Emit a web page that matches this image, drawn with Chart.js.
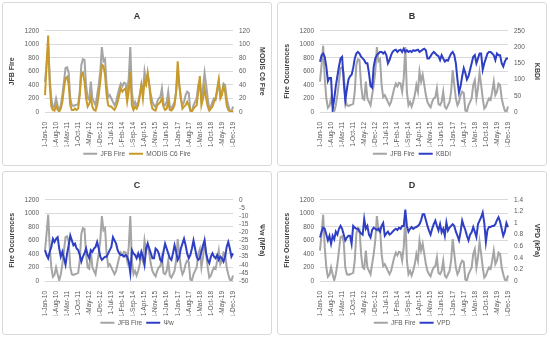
<!DOCTYPE html>
<html>
<head>
<meta charset="utf-8">
<script src="https://cdn.jsdelivr.net/npm/chart.js@4.4.1/dist/chart.umd.min.js"></script>
<style>
  body { margin: 0; background: #fff; width: 550px; height: 338px; position: relative; overflow: hidden; }
  .panel { position: absolute; width: 270px; height: 164px; box-sizing: border-box; border: 1px solid #d9d9d9; border-radius: 3px; background: #fff; }
  .panel canvas { position: absolute; left: 0; top: 0; }
</style>
</head>
<body>
<div class="panel" style="left:2px;top:2px"><canvas id="chartA" width="268" height="165"></canvas></div>
<div class="panel" style="left:277px;top:2px"><canvas id="chartB" width="268" height="165"></canvas></div>
<div class="panel" style="left:2px;top:171px"><canvas id="chartC" width="268" height="165"></canvas></div>
<div class="panel" style="left:277px;top:171px"><canvas id="chartD" width="268" height="165"></canvas></div>
<script>
// meses de ene-2010 a dic-2019 (120 categorias)
var monthNames = ["Jan", "Feb", "Mar", "Apr", "May", "Jun", "Jul", "Aug", "Sep", "Oct", "Nov", "Dec"];
var months = [];
for (var y = 10; y <= 19; y++) {
  for (var m = 0; m < 12; m++) months.push("1-" + monthNames[m] + "-" + y);
}

// etiquetas visibles del eje x (cada 7 meses)
var tickLabels = ["1-Jan-10", "1-Aug-10", "1-Mar-11", "1-Oct-11", "1-May-12", "1-Dec-12",
  "1-Jul-13", "1-Feb-14", "1-Sep-14", "1-Apr-15", "1-Nov-15", "1-Jun-16", "1-Jan-17",
  "1-Aug-17", "1-Mar-18", "1-Oct-18", "1-May-19", "1-Dec-19"];

var jfbFire = [
  450, 700, 980, 500, 200, 60, 90, 200, 100, 10, 100, 250,
  450, 650, 660, 580, 200, 100, 90, 100, 110, 120, 300, 700,
  780, 770, 400, 200, 180, 450, 200, 150, 100, 250, 400, 600,
  960, 750, 780, 400, 220, 250, 200, 150, 100, 150, 250, 350,
  420, 380, 430, 420, 300, 500, 960, 300, 100, 150, 80, 150,
  250, 400, 300, 600, 450, 550, 400, 250, 150, 100, 70, 150,
  200, 220, 350, 120, 100, 150, 300, 80, 50, 100, 150, 300,
  620, 400, 200, 100, 150, 250, 300, 280, 20, 10, 100, 150,
  200, 400, 470, 200, 350, 580, 400, 200, 50, 80, 150, 200,
  180, 300, 450, 250, 300, 420, 400, 200, 100, 20, 0, 80
];

var modisFire = [
  25, 70, 113, 40, 8, 3, 2, 10, 3, 1, 5, 15,
  35, 50, 52, 40, 10, 3, 3, 5, 3, 5, 25, 55,
  58, 45, 20, 8, 12, 22, 8, 3, 2, 10, 25, 45,
  70, 68, 55, 25, 10, 8, 8, 5, 3, 8, 15, 25,
  35, 30, 33, 35, 15, 30, 60, 10, 3, 8, 5, 10,
  25, 40, 20, 45, 40, 58, 40, 15, 5, 3, 2, 10,
  12, 15, 20, 8, 3, 5, 15, 3, 2, 5, 10, 30,
  75, 40, 20, 5, 8, 10, 15, 10, 2, 1, 5, 8,
  10, 30, 53, 10, 20, 35, 20, 8, 2, 5, 8, 15,
  20, 35, 48, 20, 25, 38, 30, 10, 3, 1, 0, 2
];

var kbdi = [
  155, 175, 180, 170, 140, 95, 105, 105, 10, 40, 80, 110,
  140, 165, 170, 95, 35, 70, 100, 110, 115, 135, 165, 180,
  185, 180, 170, 165, 160, 150, 150, 120, 80, 75, 140, 165,
  175, 180, 185, 185, 180, 185, 175, 150, 160, 175, 185, 190,
  192, 185, 190, 192, 185, 195, 185, 190, 185, 188, 185, 190,
  188, 190, 192, 185, 188, 192, 195, 190, 165, 165, 172, 180,
  185, 180, 175, 172, 160, 175, 165, 155, 160, 158, 170, 180,
  185, 175, 150, 100, 60, 80, 110, 135, 120, 100, 110, 130,
  150, 170, 175, 150, 165, 180, 180, 130, 150, 165, 180, 185,
  185, 180, 175, 160, 180, 175, 175, 150, 140, 155, 165, 165
];

var psiW = [
  -31, -34, -36, -32, -29, -24, -26, -24, -23, -30, -35, -32,
  -36, -40, -33, -28, -22, -25, -28, -27, -30, -31, -34, -38,
  -35, -33, -30, -34, -36, -31, -32, -30, -29, -26, -30, -35,
  -37, -36, -35, -35, -33, -31, -29, -23, -25, -27, -31, -33,
  -34, -34, -35, -34, -35, -38, -45, -31, -33, -34, -36, -33,
  -36, -32, -35, -40, -30, -27, -30, -33, -36, -36, -30, -31,
  -33, -37, -38, -32, -27, -30, -33, -36, -37, -33, -28, -32,
  -37, -35, -30, -27, -24, -28, -33, -36, -34, -30, -25, -30,
  -35, -37, -36, -32, -28, -25, -33, -37, -39, -35, -33, -35,
  -36, -34, -37, -35, -36, -38, -35, -29, -26, -30, -35, -33
];

var vpd = [
  0.75, 0.85, 0.92, 0.90, 0.80, 0.70, 0.78, 0.64, 0.78, 0.72, 0.85, 0.80,
  0.90, 0.95, 0.90, 0.80, 0.70, 0.75, 0.78, 0.78, 0.64, 0.95, 0.92, 0.90,
  0.90, 0.85, 0.82, 0.80, 1.07, 0.90, 0.95, 0.80, 0.75, 0.88, 0.92, 0.90,
  0.88, 0.90, 0.85, 0.95, 1.00, 0.78, 0.82, 0.85, 0.80, 0.82, 0.85, 0.88,
  0.90, 0.88, 0.92, 0.90, 0.95, 0.95, 1.23, 0.95, 0.85, 0.90, 0.93, 0.90,
  0.92, 0.93, 0.95, 0.98, 1.05, 1.15, 1.15, 1.05, 0.95, 0.87, 0.80, 0.90,
  0.98, 1.04, 0.95, 0.87, 0.98, 0.84, 0.90, 0.78, 1.01, 0.87, 0.92, 0.95,
  0.98, 0.95, 0.85, 0.78, 0.70, 0.85, 1.04, 0.95, 0.88, 0.78, 0.70, 0.80,
  0.84, 0.93, 0.85, 0.76, 0.98, 1.04, 1.10, 1.18, 1.00, 0.67, 0.88, 0.93,
  0.93, 0.95, 0.95, 0.98, 1.05, 1.10, 1.02, 0.90, 0.78, 0.85, 1.00, 0.93
];

Chart.defaults.font.family = "'Liberation Sans', Arial, sans-serif";
Chart.defaults.color = "#595959";

var GRAY = "#a5a5a5";

function makePanel(id, title, leftTitle, rightTitle, label2, data2, color2, rMin, rMax, rStep) {
  var ctx = document.getElementById(id).getContext("2d");
  return new Chart(ctx, {
    type: "line",
    data: {
      labels: months,
      datasets: [
        { label: "JFB Fire", data: jfbFire, yAxisID: "y", borderColor: GRAY, backgroundColor: GRAY,
          borderWidth: 2, pointRadius: 0, tension: 0, order: 2 },
        { label: label2, data: data2, yAxisID: "y1", borderColor: color2, backgroundColor: color2,
          borderWidth: 2, pointRadius: 0, tension: 0, order: 1 }
      ]
    },
    options: {
      responsive: false,
      animation: false,
      layout: { padding: { left: 5, right: 5, top: 0, bottom: 1 } },
      plugins: {
        title: { display: true, text: title, color: "#333", font: { size: 9, weight: "bold" },
                 padding: { top: 8, bottom: 9 } },
        legend: {
          position: "bottom",
          labels: { usePointStyle: true, pointStyle: "line", pointStyleWidth: 14, boxHeight: 6,
                    font: { size: 6.5 }, color: "#595959", padding: 4,
                    sort: function (a, b) { return a.datasetIndex - b.datasetIndex; } }
        },
        tooltip: { enabled: false }
      },
      scales: {
        x: {
          grid: { display: false },
          border: { display: true, color: "#d9d9d9" },
          ticks: {
            autoSkip: false, maxRotation: 90, minRotation: 90, padding: 2,
            font: { size: 6.5 },
            callback: function (v, i) { return i % 7 === 0 ? tickLabels[i / 7] : ""; }
          },
          afterFit: function (s) { s.height = 34.5; }
        },
        y: {
          position: "left", min: 0, max: 1200,
          ticks: { stepSize: 200, autoSkip: false, font: { size: 6.5 }, padding: 6,
                   callback: function (v) { return String(v); } },
          grid: { color: "#d9d9d9", drawTicks: false },
          border: { display: false },
          title: { display: true, text: leftTitle, color: "#404040", font: { size: 7, weight: "bold" }, padding: 0 },
          afterFit: function (s) { s.width = 37; }
        },
        y1: {
          position: "right", min: rMin, max: rMax,
          ticks: { stepSize: rStep, autoSkip: false, font: { size: 6.5 }, padding: 6,
                   callback: function (v) { return String(+v.toFixed(1)); } },
          grid: { display: false, drawTicks: false },
          border: { display: false },
          title: { display: true, text: rightTitle, color: "#404040", font: { size: 7, weight: "bold" }, padding: 0 },
          afterFit: function (s) { s.width = 33; }
        }
      }
    }
  });
}

makePanel("chartA", "A", "JFB Fire", "MODIS C6 Fire", "MODIS C6 Fire", modisFire, "#c89a2a", 0, 120, 20);
makePanel("chartB", "B", "Fire Occurences", "KBDI", "KBDI", kbdi, "#2f3fc4", 0, 250, 50);
makePanel("chartC", "C", "Fire Occurences", "Ψw (MPa)", "Ψw", psiW, "#2f3fc4", -50, 0, 5);
makePanel("chartD", "D", "Fire Occurences", "VPD (kPa)", "VPD", vpd, "#2f3fc4", 0, 1.4, 0.2);
</script>
</body>
</html>
